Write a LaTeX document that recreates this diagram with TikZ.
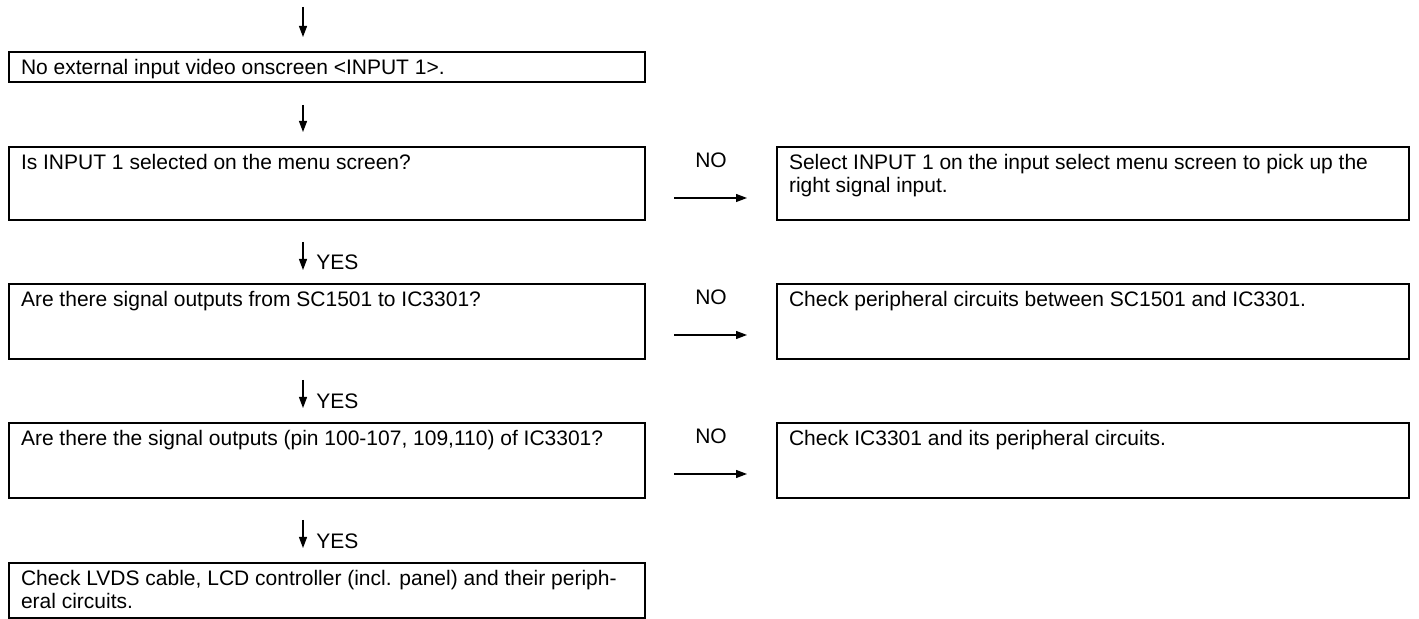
\documentclass[tikz,border=0pt]{standalone}
\usepackage{fontspec}
\setmainfont{Liberation Sans}
\usetikzlibrary{arrows.meta,calc}
\newcommand\fsz{\fontsize{10.5pt}{11.5pt}\selectfont}
\newcommand\bxt[3]{\parbox[t][#2][t]{#1}{\raggedright\strut #3}}
\begin{document}
\begin{tikzpicture}[x=0.5pt,y=-0.5pt,
  box/.style={draw, line width=1pt, anchor=north west, inner xsep=6pt, inner ysep=3pt, font=\fsz},
  arr/.style={line width=0.6pt, -{Triangle[length=5.5pt,width=4pt]}},
  lbl/.style={font=\fsz, inner sep=0pt, anchor=base}]
\fill[white] (0,0) rectangle (1419,619);
\useasboundingbox (0,0) rectangle (1419,619);
% left column
\node[box] (b1) at (8,51) {\bxt{306pt}{9pt}{No external input video onscreen <INPUT 1>.}};
\node[box] (b2) at (8,146) {\bxt{306pt}{30.5pt}{Is INPUT 1 selected on the menu screen?}};
\node[box] (b3) at (8,283) {\bxt{306pt}{31.5pt}{Are there signal outputs from SC1501 to IC3301?}};
\node[box] (b4) at (8,422) {\bxt{306pt}{31.5pt}{Are there the signal outputs (pin 100-107, 109,110) of IC3301?}};
\node[box] (b5) at (8,562) {\bxt{306pt}{21.5pt}{Check LVDS cable, LCD controller (incl. panel) and their periph-\\eral circuits.}};
% right column
\node[box] (r2) at (776,146) {\bxt{304pt}{30.5pt}{Select INPUT 1 on the input select menu screen to pick up the\\right signal input.}};
\node[box] (r3) at (776,283) {\bxt{304pt}{31.5pt}{Check peripheral circuits between SC1501 and IC3301.}};
\node[box] (r4) at (776,422) {\bxt{304pt}{31.5pt}{Check IC3301 and its peripheral circuits.}};
% vertical arrows
\coordinate (top) at (303,7);
\coordinate (col) at (303,0);
\draw[arr, shorten >=7pt] (top) -- (b1.north -| col);
\draw[arr, shorten <=11pt, shorten >=7pt] (b1.south -| col) -- (b2.north -| col);
\draw[arr, shorten <=10.5pt, shorten >=6.5pt] (b2.south -| col) -- (b3.north -| col);
\draw[arr, shorten <=10pt, shorten >=7pt] (b3.south -| col) -- (b4.north -| col);
\draw[arr, shorten <=10.5pt, shorten >=7pt] (b4.south -| col) -- (b5.north -| col);
% YES labels
\node[lbl, anchor=base west] (y3) at ([xshift=6.5pt,yshift=6.5pt]b3.north -| col) {YES};
\node[lbl, anchor=base west] (y4) at ([xshift=6.5pt,yshift=6.5pt]b4.north -| col) {YES};
\node[lbl, anchor=base west] (y5) at ([xshift=6.5pt,yshift=6.5pt]b5.north -| col) {YES};
% horizontal arrows and NO labels
\foreach \l/\r in {b2/r2,b3/r3,b4/r4}{
  \draw[arr, shorten <=14pt, shorten >=14.5pt] ([yshift=-26pt]\l.north east) -- ([yshift=-26pt]\r.north west);
  \node[lbl] (no\r) at ([yshift=-11pt]$(\l.north east)!0.5!(\r.north west)$) {NO};
}
\end{tikzpicture}
\end{document}
